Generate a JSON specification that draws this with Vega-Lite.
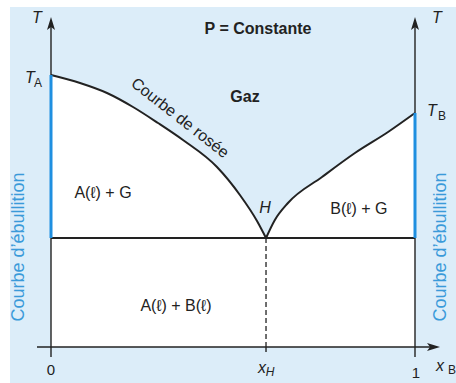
{
  "$schema": "https://vega.github.io/schema/vega-lite/v6.json",
  "width": 364,
  "height": 332,
  "autosize": {"type": "none"},
  "padding": {"left": 51, "top": 15, "right": 41, "bottom": 36},
  "background": "white",
  "config": {"view": {"stroke": null}, "text": {"font": "Liberation Sans"}},
  "datasets": {
    "frame": [{"x": -0.1126, "x2": 1.1126, "y": -36, "y2": 340}],
    "dew": [
      {"branch": "A", "x": 0.0, "y": 272},
      {"branch": "A", "x": 0.0797, "y": 264},
      {"branch": "A", "x": 0.1538, "y": 254},
      {"branch": "A", "x": 0.2253, "y": 240},
      {"branch": "A", "x": 0.294, "y": 224},
      {"branch": "A", "x": 0.3626, "y": 207},
      {"branch": "A", "x": 0.456, "y": 180},
      {"branch": "A", "x": 0.519, "y": 152},
      {"branch": "A", "x": 0.566, "y": 126},
      {"branch": "A", "x": 0.5907, "y": 109},
      {"branch": "B", "x": 0.5907, "y": 109},
      {"branch": "B", "x": 0.615, "y": 127},
      {"branch": "B", "x": 0.651, "y": 144},
      {"branch": "B", "x": 0.7445, "y": 170},
      {"branch": "B", "x": 0.835, "y": 194},
      {"branch": "B", "x": 0.926, "y": 215},
      {"branch": "B", "x": 1.0, "y": 234}
    ],
    "axes": [
      {"x": 0, "x2": 0, "y": -10, "y2": 325},
      {"x": 1, "x2": 1, "y": -10, "y2": 325},
      {"x": -0.0385, "x2": 1.06, "y": 0, "y2": 0},
      {"x": 0.5907, "x2": 0.5907, "y": -5, "y2": 0}
    ],
    "boundaries": [
      {"x": 0, "x2": 1, "y": 109, "y2": 109}
    ],
    "boiling": [
      {"x": 0, "x2": 0, "y": 109, "y2": 272},
      {"x": 1, "x2": 1, "y": 109, "y2": 234}
    ],
    "azeo": [{"x": 0.5907, "x2": 0.5907, "y": 0, "y2": 109}],
    "arrowsUp": [{"x": 0, "y": 330}, {"x": 1, "y": 330}],
    "arrowsRight": [{"x": 1.0687, "y": 0}],
    "italic": [
      {"x": -0.0385, "y": 329, "text": "T"},
      {"x": 1.0604, "y": 329, "text": "T"},
      {"x": -0.0577, "y": 269, "text": "T"},
      {"x": 1.0467, "y": 236, "text": "T"},
      {"x": 0.588, "y": 139, "text": "H"},
      {"x": 0.5797, "y": -21, "text": "x"},
      {"x": 1.0687, "y": -19, "text": "x"}
    ],
    "subs": [
      {"x": -0.0357, "y": 264, "text": "A"},
      {"x": 1.0742, "y": 231, "text": "B"},
      {"x": 1.1016, "y": -23, "text": "B"}
    ],
    "subsItalic": [{"x": 0.6016, "y": -25, "text": "H"}],
    "ticks": [
      {"x": 0, "y": -23, "text": "0"},
      {"x": 1.0027, "y": -26, "text": "1"}
    ],
    "bold": [
      {"x": 0.533, "y": 250, "text": "Gaz"},
      {"x": 0.5687, "y": 318, "text": "P = Constante"}
    ],
    "regions": [
      {"x": 0.1429, "y": 154, "text": "A(ℓ) + G"},
      {"x": 0.846, "y": 138, "text": "B(ℓ) + G"},
      {"x": 0.3434, "y": 41, "text": "A(ℓ) + B(ℓ)"}
    ],
    "dewLabel": [{"x": 0.3544, "y": 229, "text": "Courbe de rosée"}],
    "boilLabel": [
      {"x": -0.088, "y": 100, "text": "Courbe d’ébullition"},
      {"x": 1.0714, "y": 100, "text": "Courbe d’ébullition"}
    ]
  },
  "encoding": {
    "x": {"field": "x", "type": "quantitative", "scale": {"domain": [0, 1], "nice": false, "zero": false}, "axis": null},
    "y": {"field": "y", "type": "quantitative", "scale": {"domain": [0, 332], "nice": false, "zero": false}, "axis": null}
  },
  "layer": [
    {
      "data": {"name": "frame"},
      "mark": {"type": "rect", "color": "#dcedf9"},
      "encoding": {"x2": {"field": "x2"}, "y2": {"field": "y2"}}
    },
    {
      "data": {"name": "dew"},
      "mark": {"type": "area", "color": "white", "interpolate": "monotone"},
      "encoding": {"y2": {"datum": 0}, "detail": {"field": "branch"}}
    },
    {
      "data": {"name": "dew"},
      "mark": {"type": "line", "color": "#222222", "strokeWidth": 2, "interpolate": "monotone"},
      "encoding": {"detail": {"field": "branch"}}
    },
    {
      "data": {"name": "boundaries"},
      "mark": {"type": "rule", "color": "#222222", "strokeWidth": 1.8},
      "encoding": {"x2": {"field": "x2"}, "y2": {"field": "y2"}}
    },
    {
      "data": {"name": "azeo"},
      "mark": {"type": "rule", "color": "#222222", "strokeWidth": 1.3, "strokeDash": [5, 3]},
      "encoding": {"x2": {"field": "x2"}, "y2": {"field": "y2"}}
    },
    {
      "data": {"name": "axes"},
      "mark": {"type": "rule", "color": "#222222", "strokeWidth": 1.4},
      "encoding": {"x2": {"field": "x2"}, "y2": {"field": "y2"}}
    },
    {
      "data": {"name": "boiling"},
      "mark": {"type": "rule", "color": "#1f8fe0", "strokeWidth": 3},
      "encoding": {"x2": {"field": "x2"}, "y2": {"field": "y2"}}
    },
    {
      "data": {"name": "arrowsUp"},
      "mark": {"type": "point", "shape": "M0,0L0.8,2.6L0,2L-0.8,2.6Z", "size": 100, "filled": true, "color": "#222222", "opacity": 1},
      "encoding": {}
    },
    {
      "data": {"name": "arrowsRight"},
      "mark": {"type": "point", "shape": "M0,0L-2.6,0.8L-2,0L-2.6,-0.8Z", "size": 100, "filled": true, "color": "#222222", "opacity": 1},
      "encoding": {}
    },
    {
      "data": {"name": "italic"},
      "mark": {"type": "text", "fontSize": 16, "fontStyle": "italic", "color": "#222222"},
      "encoding": {"text": {"field": "text"}}
    },
    {
      "data": {"name": "subs"},
      "mark": {"type": "text", "fontSize": 12, "color": "#222222"},
      "encoding": {"text": {"field": "text"}}
    },
    {
      "data": {"name": "subsItalic"},
      "mark": {"type": "text", "fontSize": 12, "fontStyle": "italic", "color": "#222222"},
      "encoding": {"text": {"field": "text"}}
    },
    {
      "data": {"name": "ticks"},
      "mark": {"type": "text", "fontSize": 15, "color": "#222222"},
      "encoding": {"text": {"field": "text"}}
    },
    {
      "data": {"name": "bold"},
      "mark": {"type": "text", "fontSize": 16, "fontWeight": "bold", "color": "#222222"},
      "encoding": {"text": {"field": "text"}}
    },
    {
      "data": {"name": "regions"},
      "mark": {"type": "text", "fontSize": 16, "color": "#222222"},
      "encoding": {"text": {"field": "text"}}
    },
    {
      "data": {"name": "dewLabel"},
      "mark": {"type": "text", "fontSize": 16, "angle": 38, "color": "#222222"},
      "encoding": {"text": {"field": "text"}}
    },
    {
      "data": {"name": "boilLabel"},
      "mark": {"type": "text", "fontSize": 18, "angle": 270, "color": "#3a9ad9"},
      "encoding": {"text": {"field": "text"}}
    }
  ]
}
